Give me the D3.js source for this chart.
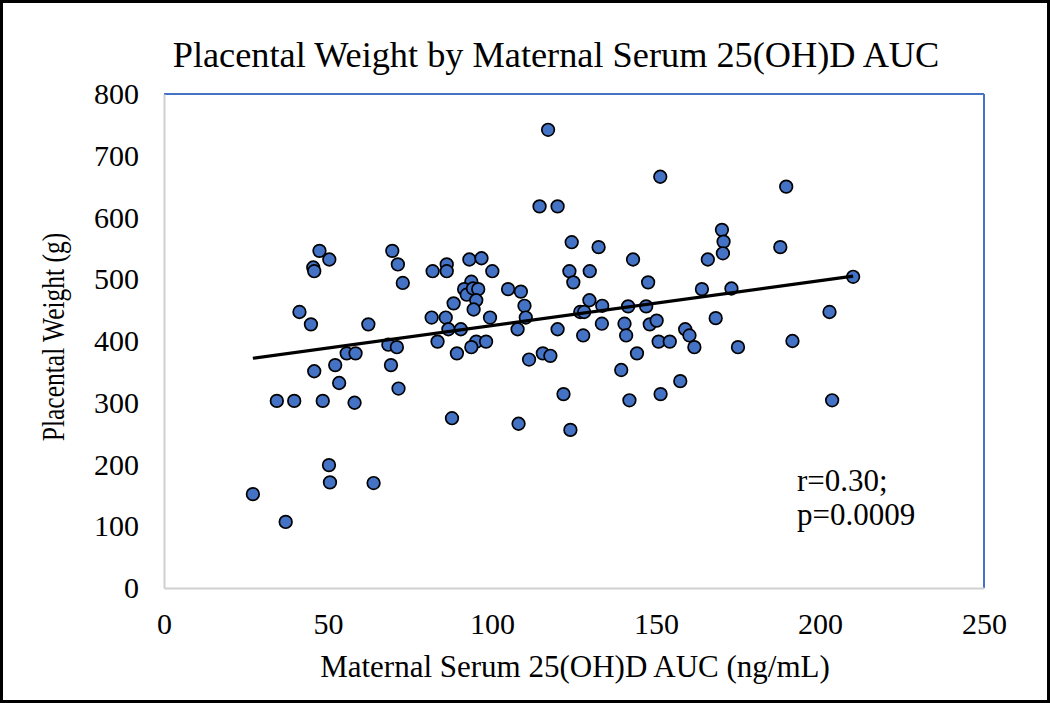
<!DOCTYPE html>
<html>
<head>
<meta charset="utf-8">
<script src="https://cdn.jsdelivr.net/npm/d3@7"></script>
<style>
  html, body { margin: 0; padding: 0; background: #fff; }
  svg text { font-family: "Liberation Serif", "Times New Roman", serif; fill: #000; }
</style>
</head>
<body>
<svg id="chart" width="1050" height="703"></svg>
<script>
// ---- data ----
const title = "Placental Weight by Maternal Serum 25(OH)D AUC";
const xLabel = "Maternal Serum 25(OH)D AUC (ng/mL)";
const yLabel = "Placental Weight (g)";
const annotation = ["r=0.30;", "p=0.0009"];
const xTicks = [0, 50, 100, 150, 200, 250];
const yTicks = [0, 100, 200, 300, 400, 500, 600, 700, 800];

const auc = [
  27.1, 37.1, 34.4, 39.7, 41.3, 44.8, 45.5, 45.8, 47.4, 50.4,
  45.8, 48.4, 50.3, 50.6, 52.2, 53.4, 55.7, 58.4, 58.1, 62.3,
  63.9, 69.6, 71.3, 72.8, 68.4, 71.0, 69.2, 71.5,
  81.9, 86.2, 86.2, 93.1, 96.8, 100.1, 93.7, 91.5, 92.3, 94.2,
  95.8, 95.2, 94.4, 88.3, 104.9, 108.8, 109.9, 110.3, 81.6, 85.9,
  99.4, 86.7, 90.5, 107.8, 120.0, 83.4, 95.2, 93.7, 98.2, 89.3,
  111.3, 115.5, 117.8, 87.8, 108.1, 117.1, 114.5, 120.0,
  124.3, 132.5, 143.0, 123.6, 124.8, 129.8, 147.6, 129.7, 133.6, 126.9,
  128.1, 141.5, 147.0, 133.5, 140.4, 140.9, 127.8, 148.1, 150.2, 150.8,
  154.2, 144.2, 139.4, 121.8, 123.9, 141.9, 151.3, 151.4, 157.4, 158.9,
  160.2, 161.7,
  165.8, 164.0, 168.2, 170.1, 170.6, 170.4, 173.0, 175.0, 187.9, 189.7,
  191.6, 202.9, 203.7, 210.1
];
const weight = [
  152, 107, 303, 303, 447, 427, 519, 513, 546, 532,
  351, 303, 199, 171, 361, 332, 380, 380, 300, 427,
  170, 546, 524, 494, 394, 390, 361, 323,
  513, 524, 513, 532, 534, 513, 496, 484, 475, 485,
  484, 466, 451, 461, 484, 480, 457, 438, 438, 438,
  438, 419, 419, 419, 419, 399, 399, 390, 399, 380,
  370, 380, 376, 275, 266, 742, 618, 618,
  560, 552, 532, 513, 495, 513, 495, 466, 457, 447,
  447, 456, 456, 428, 428, 409, 409, 427, 433, 399,
  399, 380, 353, 314, 256, 304, 666, 314, 335, 419,
  409, 390,
  532, 484, 437, 580, 561, 542, 485, 390, 552, 650,
  400, 447, 304, 504
];
// linear trend line
const trendSlope = 0.726;
const trendIntercept = 352.4;

// ---- layout ----
const W = 1050, H = 703;
const plot = { left: 164, top: 94, right: 984, bottom: 588 };

const svg = d3.select("#chart");

const x = d3.scaleLinear().domain([0, 250]).range([plot.left, plot.right]);
const y = d3.scaleLinear().domain([0, 800]).range([plot.bottom, plot.top]);

// outer frame
svg.append("rect")
  .attr("x", 1.5).attr("y", 1.5)
  .attr("width", W - 3).attr("height", H - 3)
  .attr("fill", "#fff").attr("stroke", "#000").attr("stroke-width", 3);

// plot area border: grey left/bottom, blue top/right
svg.append("line").attr("x1", plot.left).attr("x2", plot.right)
  .attr("y1", plot.top).attr("y2", plot.top)
  .attr("stroke", "#4472C4").attr("stroke-width", 2);
svg.append("line").attr("x1", plot.right).attr("x2", plot.right)
  .attr("y1", plot.top).attr("y2", plot.bottom)
  .attr("stroke", "#4472C4").attr("stroke-width", 2);

// axes via d3 axis generators (no tick marks)
const xAxis = d3.axisBottom(x).tickValues(xTicks).tickSize(0).tickPadding(25).tickFormat(d3.format("d"));
const yAxis = d3.axisLeft(y).tickValues(yTicks).tickSize(0).tickPadding(25).tickFormat(d3.format("d"));

const gx = svg.append("g").attr("transform", `translate(0,${plot.bottom})`).call(xAxis);
const gy = svg.append("g").attr("transform", `translate(${plot.left},0)`).call(yAxis);
[gx, gy].forEach(g => {
  g.select(".domain").attr("stroke", "#D0D0D0").attr("stroke-width", 2);
  g.selectAll("text").attr("font-family", "Liberation Serif").attr("font-size", 30).attr("fill", "#000");
});

// points
svg.append("g").selectAll("circle")
  .data(auc.map((a, i) => ({ a, w: weight[i] })))
  .join("circle")
  .attr("cx", d => x(d.a))
  .attr("cy", d => y(d.w))
  .attr("r", 6.3)
  .attr("fill", "#4472C4")
  .attr("stroke", "#000")
  .attr("stroke-width", 1.7);

// trend line across the data range
const xExt = d3.extent(auc);
svg.append("line")
  .attr("x1", x(xExt[0])).attr("y1", y(trendIntercept + trendSlope * xExt[0]))
  .attr("x2", x(xExt[1])).attr("y2", y(trendIntercept + trendSlope * xExt[1]))
  .attr("stroke", "#000").attr("stroke-width", 3.2);

// title
svg.append("text")
  .attr("x", 556).attr("y", 67)
  .attr("text-anchor", "middle")
  .attr("font-size", 36.3)
  .text(title);

// axis titles
svg.append("text")
  .attr("x", 575).attr("y", 677)
  .attr("text-anchor", "middle")
  .attr("font-size", 31)
  .text(xLabel);

svg.append("text")
  .attr("transform", "translate(64,337) rotate(-90) scale(1,1.2)")
  .attr("text-anchor", "middle")
  .attr("font-size", 25.5)
  .text(yLabel);

// annotation
svg.append("text")
  .attr("x", 797).attr("y", 491)
  .attr("font-size", 31)
  .selectAll("tspan")
  .data(annotation)
  .join("tspan")
  .attr("x", 797)
  .attr("dy", (d, i) => i === 0 ? 0 : 34)
  .text(d => d);
</script>
</body>
</html>
